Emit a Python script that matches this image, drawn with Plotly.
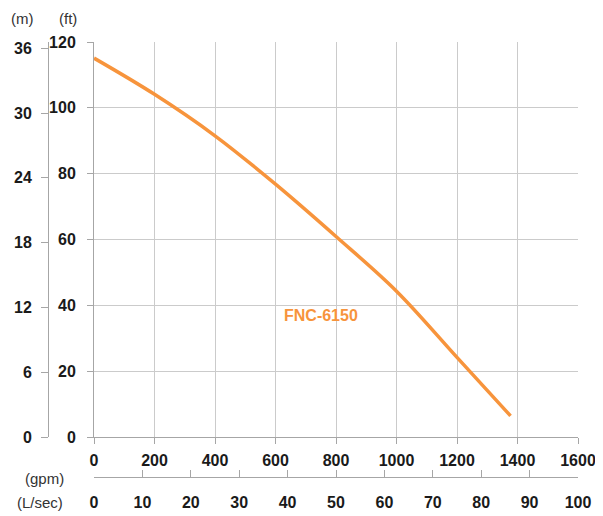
import plotly.graph_objects as go

# ---- data ----
flow_gpm = [0, 200, 400, 600, 800, 1000, 1200, 1377]
head_ft = [115.1, 104.1, 91.5, 76.8, 60.9, 44.3, 24.2, 6.4]
series_name = "FNC-6150"

gpm_ticks = [0, 200, 400, 600, 800, 1000, 1200, 1400, 1600]
lps_ticks = [0, 10, 20, 30, 40, 50, 60, 70, 80, 90, 100]
ft_ticks = [0, 20, 40, 60, 80, 100, 120]
m_ticks = [0, 6, 12, 18, 24, 30, 36]

GPM_PER_LPS = 15.850
FT_PER_M = 3.2808
X_MAX = 1600
Y_MAX = 120

# page body has an 8px margin: work in figure coordinates = screen - 8
OFF = 8
W, H = 603 - OFF, 516 - OFF
ORANGE = "#F7943C"
GRID = "#CBCBCB"
AXIS = "#A6A6A6"
TXT = "#1A1A1A"
FONT = "Liberation Sans, Arial, sans-serif"


def px(xs):
    return (xs - OFF) / W


def py(ys):
    return 1 - (ys - OFF) / H


x0, x1 = px(94), px(578)
y0, y1 = py(437), py(42)
lps_end = px(94 + 100 * GPM_PER_LPS * (484 / X_MAX))

fig = go.Figure()
fig.add_trace(go.Scatter(
    x=flow_gpm, y=head_ft, mode="lines",
    line=dict(color=ORANGE, width=3.5, shape="spline", smoothing=1.0),
    showlegend=False, hoverinfo="skip",
))
# invisible traces to activate secondary axes
fig.add_trace(go.Scatter(x=[0], y=[0], xaxis="x2", yaxis="y", mode="markers",
                         marker=dict(opacity=0), showlegend=False, hoverinfo="skip"))
fig.add_trace(go.Scatter(x=[0], y=[0], xaxis="x", yaxis="y2", mode="markers",
                         marker=dict(opacity=0), showlegend=False, hoverinfo="skip"))

tickfont16 = dict(family=FONT, size=16, color=TXT, weight="bold")

fig.update_layout(
    width=W, height=H,
    margin=dict(l=0, r=0, t=0, b=0, autoexpand=False),
    paper_bgcolor="white", plot_bgcolor="white",
    xaxis=dict(
        domain=[x0, x1], range=[0, X_MAX], tickvals=gpm_ticks,
        showgrid=True, gridcolor=GRID, gridwidth=1,
        showline=True, linecolor=AXIS, linewidth=1,
        ticks="outside", ticklen=6, tickcolor=AXIS,
        tickfont=tickfont16, ticklabelstandoff=3,
        zeroline=False, anchor="y", fixedrange=True, automargin=False,
    ),
    xaxis2=dict(
        domain=[x0, lps_end], range=[0, 100], tickvals=lps_ticks,
        showgrid=False, showline=True, linecolor=AXIS, linewidth=1,
        ticks="inside", ticklen=7, tickcolor=AXIS,
        tickfont=tickfont16, ticklabelstandoff=11,
        anchor="free", position=py(477), overlaying="x",
        side="bottom", zeroline=False, fixedrange=True, automargin=False,
    ),
    yaxis=dict(
        domain=[y0, y1], range=[0, Y_MAX], tickvals=ft_ticks,
        showgrid=True, gridcolor=GRID, gridwidth=1,
        showline=True, linecolor=AXIS, linewidth=1,
        ticks="outside", ticklen=6, tickcolor=AXIS,
        tickfont=tickfont16, ticklabelstandoff=8,
        zeroline=False, anchor="x", fixedrange=True, automargin=False,
    ),
    yaxis2=dict(
        domain=[y0, y1], range=[0, Y_MAX / FT_PER_M], tickvals=m_ticks,
        showgrid=False, showline=True, linecolor=AXIS, linewidth=1,
        ticks="outside", ticklen=7, tickcolor=AXIS,
        tickfont=tickfont16, ticklabelstandoff=6,
        anchor="free", position=px(48), overlaying="y", side="left",
        zeroline=False, fixedrange=True, automargin=False,
    ),
    annotations=[
        dict(text=series_name, x=750, y=36.8, xref="x", yref="y",
             showarrow=False, font=dict(family=FONT, size=16, color=ORANGE, weight="bold")),
        dict(text="(m)", x=px(22), y=py(8), xref="paper", yref="paper",
             xanchor="center", yanchor="top",
             showarrow=False, font=dict(family=FONT, size=15, color="#333")),
        dict(text="(ft)", x=px(68), y=py(8), xref="paper", yref="paper",
             xanchor="center", yanchor="top",
             showarrow=False, font=dict(family=FONT, size=15, color="#333")),
        dict(text="(gpm)", x=px(44), y=py(478), xref="paper", yref="paper",
             xanchor="center", yanchor="middle",
             showarrow=False, font=dict(family=FONT, size=15, color="#333")),
        dict(text="(L/sec)", x=px(40), y=py(502), xref="paper", yref="paper",
             xanchor="center", yanchor="middle",
             showarrow=False, font=dict(family=FONT, size=15, color="#333")),
    ],
)

fig.write_html("out.html")
